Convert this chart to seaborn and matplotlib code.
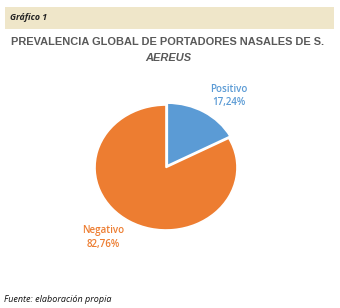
import matplotlib
matplotlib.use("Agg")
import matplotlib.pyplot as plt
import seaborn as sns
from matplotlib.patches import Rectangle

sns.set_style("white")
plt.rcParams['font.family'] = ['Liberation Sans', 'DejaVu Sans']

categories = ["Positivo", "Negativo"]
values = [17.24, 82.76]
value_labels = ["17,24%", "82,76%"]
colors = ["#5b9bd5", "#ed7d31"]

W, H = 340, 308
fig = plt.figure(figsize=(W / 100, H / 100), dpi=100)
fig.patch.set_facecolor("white")

def px(x, y):
    return x / W, 1 - y / H

# header band
fig.patches.append(Rectangle(px(5, 29), 329 / W, 22 / H, transform=fig.transFigure,
                             facecolor="#efe6c9", edgecolor="none"))
fig.text(*px(10, 18), "Gráfico 1", fontsize=6.3, fontweight="bold", fontstyle="italic",
         family=["Open Sans", "DejaVu Sans"], color="#222222", va="center", ha="left")

# title
fig.text(*px(168, 42), "PREVALENCIA GLOBAL DE PORTADORES NASALES DE S.", fontsize=7.9,
         fontweight="bold", color="#595959", ha="center", va="center")
fig.text(*px(168, 58), "AEREUS", fontsize=7.9, fontweight="bold", fontstyle="italic",
         color="#595959", ha="center", va="center")

# pie axes (slightly elliptical, as in the reference)
cx, cy, rx, ry = 166, 167.5, 71, 62.5
k = 1.25
ax = fig.add_axes([(cx - rx * k) / W, 1 - (cy + ry * k) / H, 2 * rx * k / W, 2 * ry * k / H])
ax.pie(values, colors=colors, startangle=90, counterclock=False,
       explode=[0.035, 0], wedgeprops=dict(edgecolor="white", linewidth=1.2))
ax.set_xlim(-k, k)
ax.set_ylim(-k, k)
ax.set_aspect("auto")
ax.axis("off")

# data labels
lab_font = ["Open Sans", "DejaVu Sans"]
for (x, y), txt, c in [((229, 89), categories[0], colors[0]), ((229, 102), value_labels[0], colors[0]),
                       ((103, 230), categories[1], colors[1]), ((103, 244), value_labels[1], colors[1])]:
    fig.text(*px(x, y), txt, fontsize=7.0, fontweight="semibold", color=c,
             ha="center", va="center", family=lab_font)

# source
fig.text(*px(4, 299), "Fuente: elaboración propia", fontsize=6.5, fontstyle="italic",
         family=["Open Sans", "DejaVu Sans"], color="#111111", ha="left", va="center")

fig.savefig("out.png", dpi=100)
